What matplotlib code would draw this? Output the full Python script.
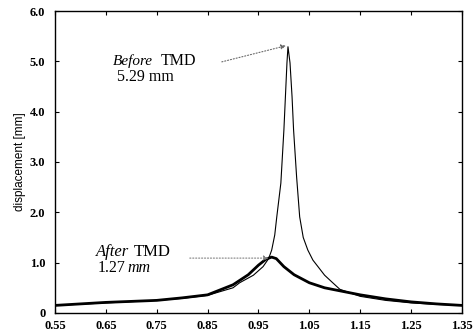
import matplotlib
matplotlib.use("Agg")
import matplotlib.pyplot as plt

# Data
before_x = [0.55, 0.65, 0.75, 0.80, 0.85, 0.90, 0.913, 0.94, 0.959, 0.97, 0.976, 0.982, 0.986,
            0.994, 1.000, 1.006, 1.008, 1.012, 1.016, 1.019, 1.025, 1.031, 1.038, 1.047,
            1.057, 1.067, 1.080, 1.096, 1.110, 1.15, 1.20, 1.25, 1.30, 1.35]
before_y = [0.15, 0.20, 0.25, 0.29, 0.35, 0.50, 0.60, 0.75, 0.92, 1.08, 1.25, 1.55, 1.91,
            2.58, 3.64, 4.97, 5.29, 4.97, 4.30, 3.64, 2.70, 1.91, 1.50, 1.25,
            1.05, 0.92, 0.75, 0.60, 0.47, 0.33, 0.25, 0.20, 0.17, 0.15]

after_x = [0.55, 0.65, 0.75, 0.80, 0.85, 0.90, 0.93, 0.95, 0.965, 0.976, 0.985, 1.00,
           1.02, 1.05, 1.08, 1.10, 1.15, 1.20, 1.25, 1.30, 1.35]
after_y = [0.15, 0.21, 0.25, 0.30, 0.36, 0.56, 0.76, 0.95, 1.07, 1.11, 1.08, 0.92,
           0.76, 0.60, 0.50, 0.46, 0.36, 0.28, 0.22, 0.18, 0.15]

xticks = [0.55, 0.65, 0.75, 0.85, 0.95, 1.05, 1.15, 1.25, 1.35]
xtick_labels = ["0.55", "0.65", "0.75", "0.85", "0.95", "1.05", "1.15", "1.25", "1.35"]
yticks = [0, 1, 2, 3, 4, 5, 6]
ytick_labels = ["0", "1.0", "2.0", "3.0", "4.0", "5.0", "6.0"]

serif = "Liberation Serif"

fig = plt.figure(figsize=(4.76, 3.34), dpi=100)
ax = fig.add_axes([0.1155, 0.063, 0.855, 0.904])

ax.plot(before_x, before_y, color="black", lw=0.8)
ax.plot(after_x, after_y, color="black", lw=2.0)

ax.set_xlim(0.55, 1.35)
ax.set_ylim(0, 6.0)
ax.set_xticks(xticks)
ax.set_xticklabels(xtick_labels, fontfamily=serif, fontsize=9, fontweight="bold")
ax.set_yticks(yticks)
ax.set_yticklabels(ytick_labels, fontfamily=serif, fontsize=9, fontweight="bold")
ax.tick_params(direction="in", top=True, right=True, length=3, width=0.8)
ax.tick_params(axis="x", pad=5)
ax.tick_params(axis="y", pad=7)
for s in ax.spines.values():
    s.set_linewidth(1.0)

ax.set_ylabel("displacement [mm]", fontfamily="Liberation Sans", fontsize=8.5, labelpad=2)
ax.yaxis.set_label_coords(-0.072, 0.5)

# annotations
ax.text(0.664, 5.0, "Before", fontfamily=serif, fontstyle="italic", fontsize=11, va="center")
ax.text(0.758, 5.0, "TMD", fontfamily=serif, fontsize=11.5, va="center")
ax.text(0.672, 4.69, "5.29 mm", fontfamily=serif, fontsize=11.5, va="center")
ax.annotate("", xy=(1.004, 5.31), xytext=(0.878, 4.99),
            arrowprops=dict(arrowstyle="-|>", linestyle=":", color="dimgray", lw=0.8,
                            mutation_scale=7, shrinkA=0, shrinkB=0))

ax.text(0.631, 1.21, "After", fontfamily=serif, fontstyle="italic", fontsize=12, va="center")
ax.text(0.705, 1.21, "TMD", fontfamily=serif, fontsize=12, va="center")
ax.text(0.634, 0.89, "1.27", fontfamily=serif, fontsize=11.5, va="center")
ax.text(0.692, 0.89, "mm", fontfamily=serif, fontstyle="italic", fontsize=11.5, va="center")
ax.annotate("", xy=(0.970, 1.09), xytext=(0.815, 1.09),
            arrowprops=dict(arrowstyle="-|>", linestyle=":", color="gray", lw=0.8,
                            mutation_scale=7, shrinkA=0, shrinkB=0))

fig.savefig("out.png", dpi=100)
